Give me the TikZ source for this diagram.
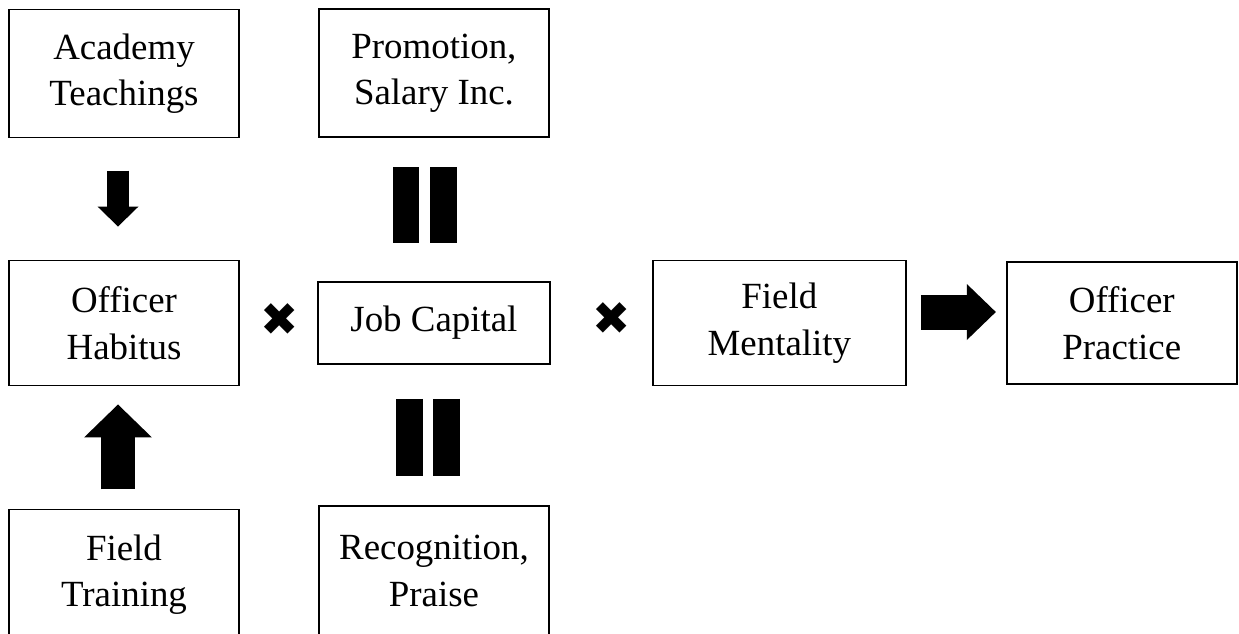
\documentclass[tikz,border=0pt]{standalone}
\usepackage{fontspec}
\setmainfont{Liberation Serif}
\newfontfamily\dingfont{DejaVu Sans}
\usetikzlibrary{positioning, arrows.meta}

\begin{document}
\begin{tikzpicture}[
			x=0.02cm, y=-0.02cm,
			every node/.style={align=center, font=\fontsize{21}{26.5}\selectfont},
			box/.style={draw,rectangle,line width=1pt,minimum width=4.6cm,minimum height=2.5cm,inner sep=0pt,outer sep=0pt},
			times/.style={font=\dingfont\fontsize{26}{26}\selectfont,inner sep=0pt},
			bars/.style={line width=0.53cm}
		]
			\useasboundingbox (0,0) rectangle (1239,633);
			\clip (0,0) rectangle (1239,633);
			\fill[white] (0,0) rectangle (1239,633);

			\node (habitus) [box] at (124,323) {Officer\\Habitus};
			\node (academy) [box,minimum height=2.56cm,above=2.46cm of habitus] {Academy\\Teachings};
			\node (training) [box,minimum height=2.6cm,below=2.48cm of habitus] {Field\\Training};

			\node (capital) [box,minimum width=4.64cm,minimum height=1.64cm,right=1.58cm of habitus] {Job Capital};
			\node (promotion) [box,minimum height=2.56cm,above=2.9cm of capital] {Promotion,\\Salary Inc.};
			\node (recognition) [box,minimum height=2.6cm,below=2.84cm of capital] {Recognition,\\Praise};

			\node (mentality) [box,minimum width=5.06cm,right=2.06cm of capital] {Field\\Mentality};
			\node (practice) [box,minimum height=2.44cm,right=2.02cm of mentality] {Officer\\Practice};

			\node (times1) [times] at (280,320) {✖};
			\node (times2) [times] at (612,319) {✖};

			\draw[line width=0.44cm,-{Triangle[width=0.82cm,length=0.4cm,line width=0pt]},shorten <=0.66cm,shorten >=0.68cm]
				([xshift=-0.12cm]academy.south) -- ([xshift=-0.12cm]habitus.north);
			\draw[line width=0.68cm,-{Triangle[width=1.36cm,length=0.66cm,line width=0pt]},shorten <=0.4cm,shorten >=0.38cm]
				([xshift=-0.12cm]training.north) -- ([xshift=-0.12cm]habitus.south);
			\draw[line width=0.7cm,-{Triangle[width=1.12cm,length=0.58cm,line width=0pt]},shorten <=0.3cm,shorten >=0.22cm]
				([yshift=0.22cm]mentality.east) -- ([yshift=0.22cm]practice.west);

			\draw[bars,shorten <=0.6cm,shorten >=0.78cm] ([xshift=-0.56cm]promotion.south) -- ([xshift=-0.56cm]capital.north);
			\draw[bars,shorten <=0.6cm,shorten >=0.78cm] ([xshift=0.19cm]promotion.south) -- ([xshift=0.19cm]capital.north);
			\draw[bars,shorten <=0.7cm,shorten >=0.6cm] ([xshift=-0.49cm]capital.south) -- ([xshift=-0.49cm]recognition.north);
			\draw[bars,shorten <=0.7cm,shorten >=0.6cm] ([xshift=0.25cm]capital.south) -- ([xshift=0.25cm]recognition.north);
		\end{tikzpicture}
\end{document}
